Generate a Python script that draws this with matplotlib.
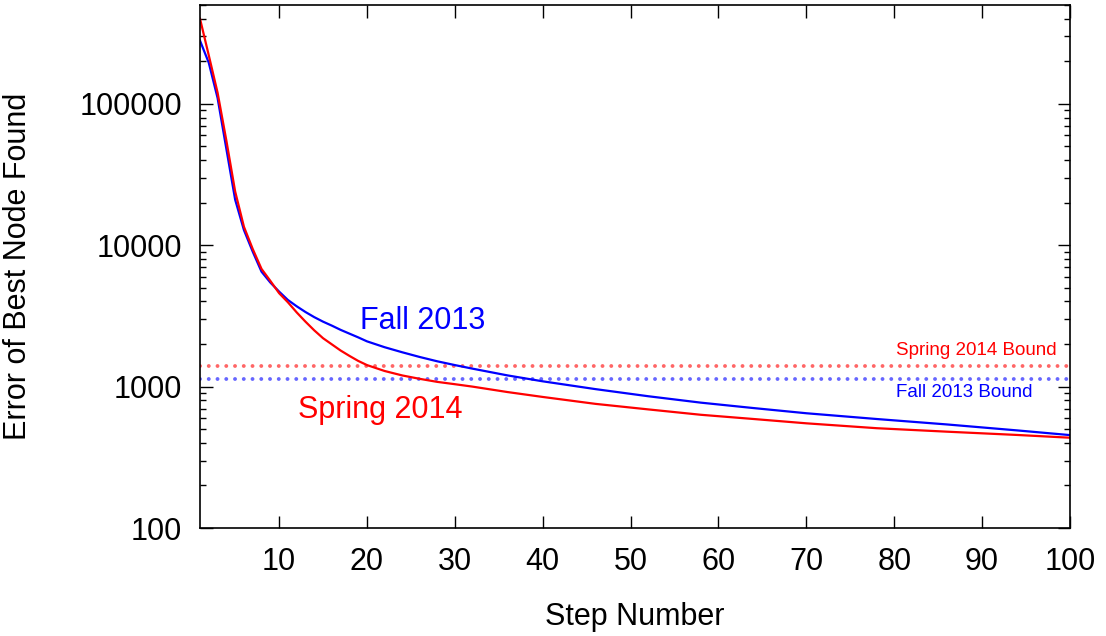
import matplotlib
matplotlib.use("Agg")
import matplotlib.pyplot as plt
from matplotlib.ticker import FixedLocator, LogLocator, NullFormatter

plt.rcParams["font.family"] = ["Liberation Sans", "DejaVu Sans"]

# values
steps = [1, 2, 3, 4, 5, 6, 7, 8, 9, 10, 11, 12, 13, 14, 15, 16, 17, 18, 19, 20,
         22, 24, 26, 28, 30, 32, 36, 40, 46, 52, 58, 64, 70, 78, 86, 94, 100]
fall_2013 = [280000, 195000, 110000, 48000, 21000, 12800, 9000, 6500, 5450, 4700,
             4100, 3700, 3370, 3100, 2880, 2700, 2520, 2370, 2230, 2090,
             1900, 1750, 1620, 1510, 1420, 1340, 1200, 1090,
             960, 855, 770, 705, 648, 590, 540, 490, 454]
spring_2014 = [400000, 220000, 120000, 55000, 24000, 13500, 9400, 6800, 5600, 4580,
               3950, 3350, 2880, 2500, 2200, 1990, 1800, 1650, 1520, 1420,
               1290, 1200, 1135, 1080, 1040, 1000, 915, 845,
               755, 690, 632, 590, 550, 508, 480, 455, 435]
spring_bound = 1400
fall_bound = 1140
x_ticks = [10, 20, 30, 40, 50, 60, 70, 80, 90, 100]
y_ticks = [100, 1000, 10000, 100000]

RED = "#ff0000"
BLUE = "#0000ff"

fig = plt.figure(figsize=(11.06, 6.36), dpi=100)
ax = fig.add_axes([200 / 1106, 108 / 636, 870 / 1106, 523 / 636])

dots = (0, (0.01, 2.24))
ax.axhline(spring_bound, color="#ff6666", lw=2.8, ls=dots, dash_capstyle="round")
ax.axhline(fall_bound, color="#6666ff", lw=2.8, ls=dots, dash_capstyle="round")
ax.plot(steps, fall_2013, color=BLUE, lw=1.6)
ax.plot(steps, spring_2014, color=RED, lw=1.6)

ax.text(19.2, 2550, "Fall 2013", color=BLUE, fontsize=22, va="baseline")
ax.text(12.2, 596, "Spring 2014", color=RED, fontsize=22, va="baseline")
ax.text(80.2, 1670, "Spring 2014 Bound", color=RED, fontsize=13.5, va="baseline")
ax.text(80.2, 840, "Fall 2013 Bound", color=BLUE, fontsize=13.5, va="baseline")

ax.set_yscale("log")
ax.set_xlim(1, 100)
ax.set_ylim(100, 500000)
ax.xaxis.set_major_locator(FixedLocator(x_ticks))
ax.yaxis.set_major_locator(FixedLocator(y_ticks))
ax.yaxis.set_minor_locator(LogLocator(base=10, subs=range(2, 10)))
ax.yaxis.set_minor_formatter(NullFormatter())
ax.set_yticklabels([str(v) for v in y_ticks])
ax.set_xticklabels([str(v) for v in x_ticks])

ax.tick_params(which="both", direction="in", top=True, right=True, labelsize=22, width=1)
ax.tick_params(which="major", length=9)
ax.tick_params(which="minor", length=4.5)
ax.tick_params(axis="y", pad=13)
ax.tick_params(axis="x", pad=14)
for s in ax.spines.values():
    s.set_linewidth(1.2)

ax.set_xlabel("Step Number", fontsize=22)
ax.set_ylabel("Error of Best Node Found", fontsize=22)
ax.xaxis.set_label_coords(0.5, -0.1415)
ax.yaxis.set_label_coords(-0.192, 0.5)

fig.savefig("out.png", dpi=100)
